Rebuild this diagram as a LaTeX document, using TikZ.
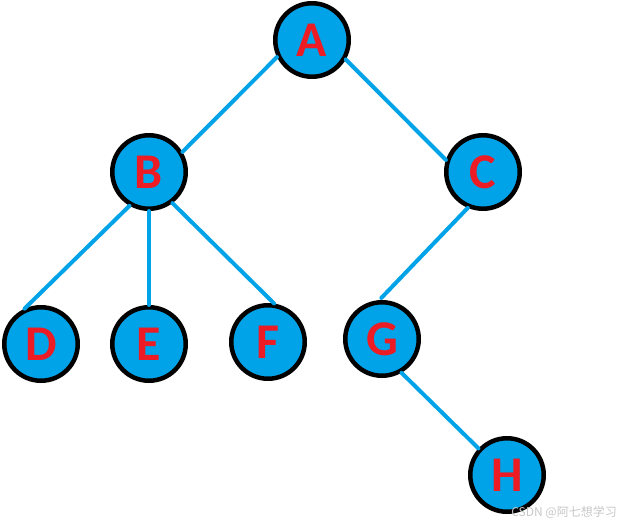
\documentclass[tikz,border=0pt]{standalone}
\usepackage{fontspec}
\setmainfont{Carlito}
\newfontfamily\cjkfont{Noto Sans CJK SC}
\definecolor{nodeblue}{HTML}{00A2E8}
\definecolor{letterred}{HTML}{ED1C24}
\begin{document}
\begin{tikzpicture}[x=1pt,y=-1pt,
  treenode/.style={circle,draw=black,fill=nodeblue,line width=4.5pt,minimum size=73.5pt,inner sep=0pt,
    font=\fontsize{50}{50}\selectfont\bfseries,text=letterred},
  link/.style={draw=nodeblue,line width=4pt,line cap=round}]
\useasboundingbox (0,0) rectangle (623,524);
\node[treenode] (A) at (312,40) {A};
\node[treenode] (B) at (149,172) {B};
\node[treenode] (C) at (483,172) {C};
\node[treenode] (D) at (41,344) {D};
\node[treenode] (E) at (149,344) {E};
\node[treenode] (F) at (268,342) {F};
\node[treenode] (G) at (382,339) {G};
\node[treenode] (H) at (507,475) {H};
\path[link] (A.206) -- (B.31);
\path[link] (A.330) -- (C.162);
\path[link] (B.240) -- (D.115);
\path[link] (B.270) -- (E.90);
\path[link] (B.307) -- (F.81);
\path[link,shorten >=3pt] (C.247) -- (G.94);
\path[link] (G.300) -- (H.137);
\node[text=black!22,font=\cjkfont\fontsize{12}{12}\selectfont,anchor=east,inner sep=0pt] (wm) at (617,512) {CSDN @阿七想学习};
\end{tikzpicture}
\end{document}
